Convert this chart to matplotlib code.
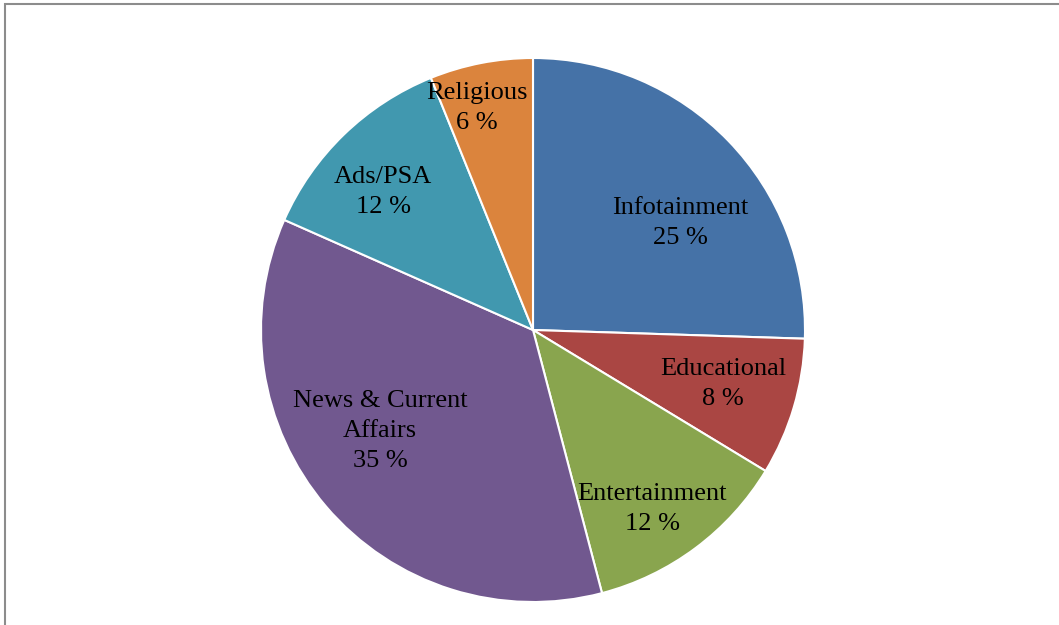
import numpy as np
import matplotlib
matplotlib.use("Agg")
import matplotlib.pyplot as plt
from matplotlib.patches import Rectangle

categories = ["Infotainment", "Educational", "Entertainment",
              "News & Current\nAffairs", "Ads/PSA", "Religious"]
values = [25, 8, 12, 35, 12, 6]
colors = ["#4572A7", "#AA4643", "#89A54E", "#71588F", "#4198AF", "#DB843D"]
# label placement: radius (fraction of pie radius) and angle shift from wedge middle
label_r = [0.668, 0.727, 0.790, 0.674, 0.749, 0.841]
label_shift = [-8.1, 0.6, -3.1, -7.0, 3.3, 3.2]

plt.rcParams['font.family'] = ['Liberation Serif', 'DejaVu Serif']

W, H = 1059, 625
fig = plt.figure(figsize=(W / 100, H / 100), dpi=100)

# grey frame (only left/top visible)
fig.patches.append(Rectangle((5 / W, -0.1), 1.2, (H - 4) / H + 0.1,
                             transform=fig.transFigure, fill=False,
                             edgecolor="#8c8c8c", linewidth=1.5))

cx, cy, R = 533, H - 330, 272
ax = fig.add_axes([(cx - R) / W, (cy - R) / H, 2 * R / W, 2 * R / H])
wedges, _ = ax.pie(values, colors=colors, startangle=90, counterclock=False,
                   radius=1, wedgeprops=dict(edgecolor="white", linewidth=1.5))
ax.set_xlim(-1, 1)
ax.set_ylim(-1, 1)
ax.set_aspect("equal")
ax.axis("off")

for w, lab, v, r, s in zip(wedges, categories, values, label_r, label_shift):
    ang = np.deg2rad((w.theta1 + w.theta2) / 2 + s)
    ax.text(r * np.cos(ang), r * np.sin(ang), f"{lab}\n{v} %",
            ha="center", va="center", fontsize=19, color="black",
            linespacing=1.47)

fig.savefig("out.png", dpi=100)
